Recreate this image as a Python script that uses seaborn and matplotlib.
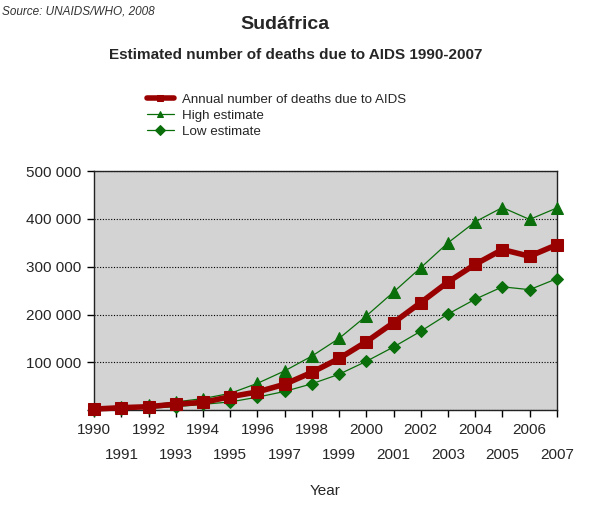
import pandas as pd
import matplotlib
matplotlib.use("Agg")
import matplotlib.pyplot as plt
import seaborn as sns

# Values
years = list(range(1990, 2008))
annual = [2000, 5000, 7000, 12500, 16000, 28000, 38000, 54000, 79000,
          108000, 143000, 183000, 225000, 268000, 305000, 336000, 322000, 346000]
high = [3000, 7000, 10000, 17000, 24000, 35000, 56000, 82000, 113000,
        150000, 197000, 247000, 298000, 350000, 394000, 424000, 399000, 423000]
low = [1000, 3000, 4000, 7000, 12000, 17000, 27000, 39000, 55000,
       75000, 102000, 132000, 165000, 201000, 232000, 258000, 252000, 275000]
y_ticks = [0, 100000, 200000, 300000, 400000, 500000]

sns.set_style("white")
plt.rcParams['font.family'] = ['Liberation Sans', 'DejaVu Sans']

fig = plt.figure(figsize=(6, 5.05), dpi=100)
ax = fig.add_axes([0.157, 0.188, 0.771, 0.473])
ax.set_facecolor("#d3d3d3")

red = "#990000"
green = "#0a6e0a"
sns.lineplot(x=years, y=annual, ax=ax, color=red, linewidth=4, marker="s",
             markersize=9, markeredgecolor=red, label="Annual number of deaths due to AIDS",
             zorder=4, clip_on=False)
sns.lineplot(x=years, y=high, ax=ax, color=green, linewidth=0.9, marker="^",
             markersize=8, markeredgecolor=green, label="High estimate", zorder=3, clip_on=False)
sns.lineplot(x=years, y=low, ax=ax, color=green, linewidth=0.9, marker="D",
             markersize=6, markeredgecolor=green, label="Low estimate", zorder=3, clip_on=False)

ax.set_xlim(1990, 2007)
ax.set_ylim(0, 500000)
ax.set_yticks(y_ticks)
ax.set_yticklabels(["" if v == 0 else f"{v // 1000} 000" for v in y_ticks], fontsize=11)

# even years on the first row, odd years on a second row
even_years = [y for y in years if y % 2 == 0]
odd_years = [y for y in years if y % 2 == 1]
ax.set_xticks(even_years)
ax.set_xticklabels([str(y) for y in even_years], fontsize=11)
ax.set_xticks(odd_years, minor=True)
ax.set_xticklabels([str(y) for y in odd_years], minor=True, fontsize=11)
ax.tick_params(axis="both", which="major", direction="out", length=5, width=1,
               color="black", pad=4, bottom=True, left=True)
ax.tick_params(axis="x", which="minor", direction="out", length=5, width=1,
               color="black", pad=22, bottom=True)
ax.grid(axis="y", color="black", linestyle=(0, (1, 1.5)), linewidth=0.8)
ax.grid(axis="x", visible=False)
for s in ax.spines.values():
    s.set_color("#222222")
    s.set_linewidth(1)
ax.set_xlabel("Year", fontsize=11, labelpad=16)
ax.set_ylabel("")

ax.get_legend().remove()
handles, labels = ax.get_legend_handles_labels()
leg = fig.legend(handles, labels, loc="upper left", bbox_to_anchor=(0.236, 0.826),
                 bbox_transform=fig.transFigure, frameon=False, fontsize=9.6,
                 handlelength=2.0, handletextpad=0.6, labelspacing=0.28, borderaxespad=0)
for h in leg.legend_handles:
    h.set_markersize(5)

fig.text(0.003, 0.99, "Source: UNAIDS/WHO, 2008", fontsize=8.5, style="italic",
         color="#333333", ha="left", va="top")
fig.text(0.475, 0.951, "Sudáfrica", fontsize=14, fontweight="bold", ha="center", va="center")
fig.text(0.493, 0.891, "Estimated number of deaths due to AIDS 1990-2007", fontsize=11,
         fontweight="bold", ha="center", va="center")

fig.savefig("out.png", dpi=100, facecolor="white")
